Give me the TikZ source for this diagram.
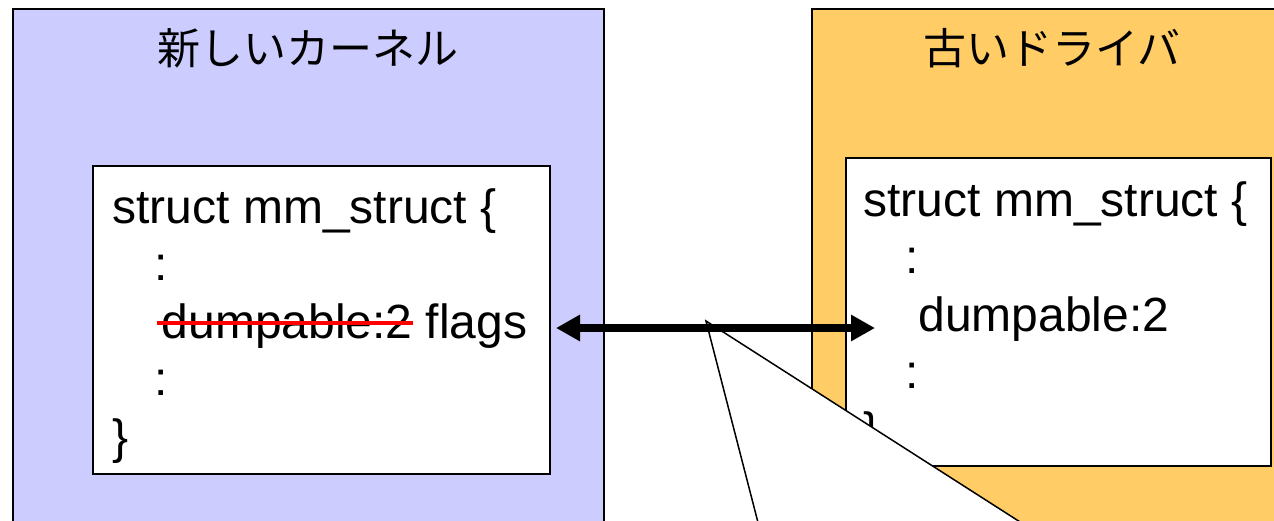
\documentclass[tikz,border=0pt]{standalone}
\usepackage{fontspec}
\setmainfont{Liberation Sans}
\newfontfamily\jpfont{Noto Sans CJK JP}
\usetikzlibrary{arrows.meta}

\definecolor{kernelblue}{HTML}{CCCCFF}
\definecolor{driverorange}{HTML}{FFCC66}

\newsavebox{\strikebox}
\newcommand{\redstrike}[1]{\sbox{\strikebox}{#1}\usebox{\strikebox}%
  \llap{\textcolor{red}{\rule[6.6pt]{\dimexpr\wd\strikebox+2.5pt\relax}{1.8pt}}}}

\begin{document}
\begin{tikzpicture}[x=0.5pt,y=-0.5pt,
    panel/.style={draw=black,line width=0.9pt,anchor=north west,inner sep=0pt,minimum height=276pt},
    codebox/.style={draw=black,fill=white,line width=0.9pt,anchor=north west,inner sep=0pt,minimum width=#1,minimum height=154pt},
    title/.style={font=\jpfont\fontsize{21.5}{26}\selectfont,anchor=base,inner sep=0pt},
    code/.style={font=\fontsize{24}{28.75}\selectfont,align=left,anchor=base west,inner sep=0pt},
    link/.style={line width=4pt,{Triangle[length=12pt,width=12.5pt]}-{Triangle[length=12pt,width=12.5pt]}},
    balloon/.style={draw=black,fill=white,line width=0.75pt,line join=miter}]
	\useasboundingbox (0,0) rectangle (1274,520);
	\clip (0,0) rectangle (1274,520);

	\node[panel,fill=kernelblue,minimum width=295.5pt] (kernel) at (12,8) {};
	\node[panel,fill=driverorange,minimum width=241pt] (driver) at (811,8) {};
	\node[title] (kerneltitle) at (307.5,64) {新しいカーネル};
	\node[title] (drivertitle) at (1052,64) {古いドライバ};

	\node[codebox=228.5pt] (newbox) at (92,165) {};
	\node[codebox=212.5pt] (oldbox) at (845,157) {};

	% base anchor sits on the closing brace line
	\node[code] (newcode) at (112,453) {struct mm\_struct \{\\
		\hspace*{21pt}:\\
		\hspace*{24.7pt}\redstrike{dumpable:2} flags\\
		\hspace*{21pt}:\\
		\}};
	\node[code] (oldcode) at (863,446) {struct mm\_struct \{\\
		\hspace*{21pt}:\\
		\hspace*{27.5pt}dumpable:2\\
		\hspace*{21pt}:\\
		\}};

	% callout pointing at the link
	\coordinate (tip) at (706,321);
	\draw[balloon] (tip) -- (778,600) -- (1142,600) -- cycle;

	\coordinate (newend) at (556,328);
	\coordinate (oldend) at (875,328);
	\draw[link] (newend) -- (oldend);
\end{tikzpicture}
\end{document}
